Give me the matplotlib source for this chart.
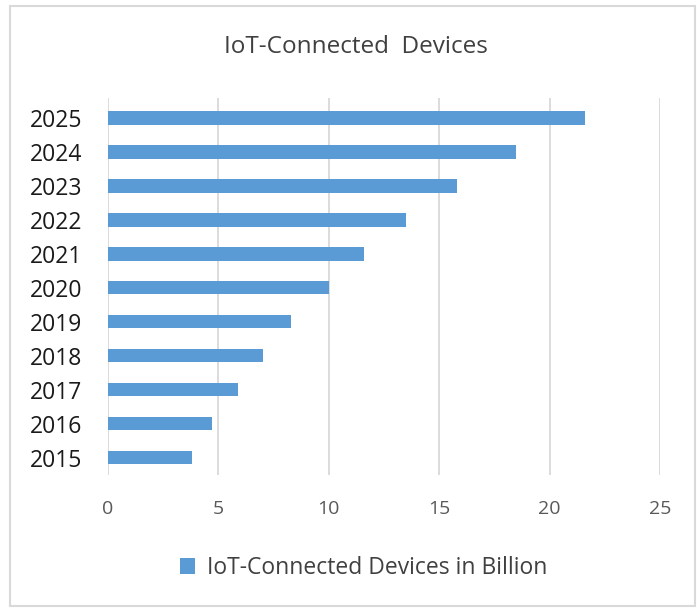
import matplotlib
matplotlib.use("Agg")
import matplotlib.pyplot as plt

years = ["2015", "2016", "2017", "2018", "2019", "2020",
         "2021", "2022", "2023", "2024", "2025"]
devices = [3.8, 4.7, 5.9, 7.0, 8.3, 10.0, 11.6, 13.5, 15.8, 18.5, 21.6]
series_name = "IoT-Connected Devices in Billion"

plt.rcParams['font.family'] = ['Open Sans', 'DejaVu Sans']

fig = plt.figure(figsize=(6.97, 6.08), dpi=100)
ax = fig.add_axes([108 / 697, 1 - 475 / 608, 552 / 697, 377 / 608])

ax.barh(range(len(years)), devices, height=0.39, color="#5b9bd5",
        label=series_name, zorder=3)

ax.set_xlim(0, 25)
ax.set_ylim(-0.51, 10.59)
ax.set_xticks([0, 5, 10, 15, 20, 25])
ax.set_yticks(range(len(years)))
ax.set_yticklabels(years, fontsize=16.5, color="#1a1a1a")
ax.tick_params(axis="x", labelsize=14, labelcolor="#595959", length=0, pad=18)
ax.tick_params(axis="y", length=0, pad=18.5)
ax.grid(axis="x", color="#d9d9d9", linewidth=1.3, zorder=0)
for s in ax.spines.values():
    s.set_visible(False)

fig.text(0.51, 1 - 47 / 608, "IoT-Connected  Devices", ha="center", va="center",
         fontsize=17.5, color="#404040")

fig.legend(loc="center", bbox_to_anchor=(0.522, 1 - 568 / 608), frameon=False,
           fontsize=16.5, handlelength=0.65, handleheight=0.65, handletextpad=0.5,
           labelcolor="#404040")

# thin border around the chart area
fig.patches.append(plt.Rectangle((10 / 697, 2 / 608), 685 / 697, 600 / 608,
                                 transform=fig.transFigure, fill=False,
                                 edgecolor="#d9d9d9", linewidth=1.5))

fig.savefig("out.png", dpi=100)
